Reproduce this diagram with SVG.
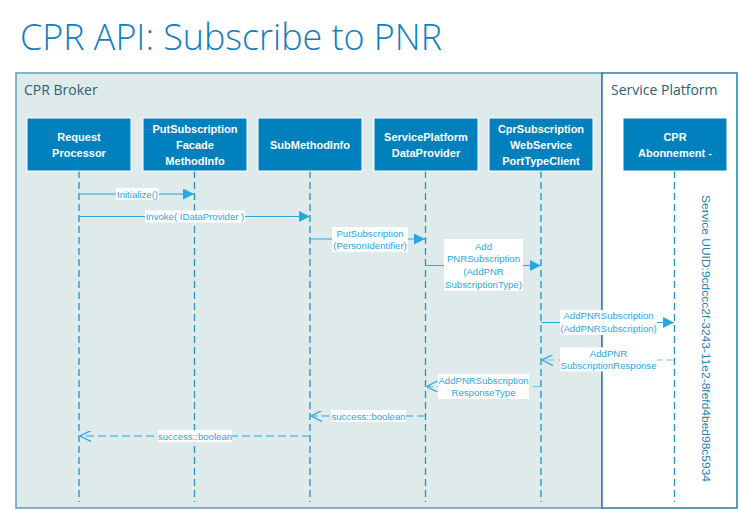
<svg xmlns="http://www.w3.org/2000/svg" width="740" height="510" viewBox="0 0 740 510">
<defs>
<style>
.title{font-family:"Open Sans","Liberation Sans",sans-serif;font-size:37px;fill:#117ec0;font-weight:300}
.frame{font-family:"Open Sans","Liberation Sans",sans-serif;font-size:14px;fill:#2d5d74}
.node rect{fill:#0080bc;stroke:#ffffff;stroke-width:1}
.node text{font-family:"Liberation Sans",Arial,sans-serif;font-size:11px;font-weight:bold;fill:#ffffff;text-anchor:middle}
.life{stroke:#1e92cb;stroke-width:1.3;stroke-dasharray:7 4;fill:none}
.msg{stroke:#29a8e0;stroke-width:1.2;fill:none}
.ret{stroke:#29a8e0;stroke-width:1.2;fill:none;stroke-dasharray:8 4}
.lbg{fill:#ffffff}
.lbl{font-family:"Liberation Sans",Arial,sans-serif;font-size:9.6px;fill:#2aa8df;text-anchor:middle}
.vert{font-family:"Liberation Sans",Arial,sans-serif;font-size:11px;fill:#1f7fb0}
</style>
<marker id="fill" viewBox="0 0 10 10" refX="10" refY="5" markerWidth="11" markerHeight="11" markerUnits="userSpaceOnUse" orient="auto">
<path d="M0,0 L10,5 L0,10 z" fill="#29a8e0"/>
</marker>
<marker id="open" viewBox="0 0 10 10" refX="10" refY="5" markerWidth="11" markerHeight="11" markerUnits="userSpaceOnUse" orient="auto">
<path d="M0,0 L10,5 L0,10" fill="none" stroke="#29a8e0" stroke-width="1.2"/>
</marker>
</defs>
<rect width="740" height="510" fill="#ffffff"/>
<text class="title" x="20" y="50" textLength="422" lengthAdjust="spacingAndGlyphs">CPR API: Subscribe to PNR</text>

<g id="cpr-broker">
<rect x="16" y="73" width="586" height="435" fill="#dfeaea" stroke="#5f9db3" stroke-width="1.5"/>
<text class="frame" x="24" y="95">CPR Broker</text>
</g>
<g id="service-platform">
<rect x="602" y="73" width="135" height="435" fill="#ffffff" stroke="#2b7ca6" stroke-width="1.5"/>
<text class="frame" x="611" y="95">Service Platform</text>
</g>

<g id="lifelines">
<line class="life" x1="79" y1="171" x2="79" y2="502"/>
<line class="life" x1="194.5" y1="171" x2="194.5" y2="502"/>
<line class="life" x1="310" y1="171" x2="310" y2="502"/>
<line class="life" x1="425.5" y1="171" x2="425.5" y2="502"/>
<line class="life" x1="541" y1="171" x2="541" y2="502"/>
<line class="life" x1="674.5" y1="171" x2="674.5" y2="502"/>
</g>

<g id="request-processor" class="node">
<rect x="27" y="118" width="104" height="53"/>
<text x="79" y="140.5">Request</text>
<text x="79" y="156.5">Processor</text>
</g>
<g id="putsubscription-facade" class="node">
<rect x="143" y="118" width="104" height="53"/>
<text x="195" y="133">PutSubscription</text>
<text x="195" y="149">Facade</text>
<text x="195" y="165">MethodInfo</text>
</g>
<g id="submethodinfo" class="node">
<rect x="258" y="118" width="104" height="53"/>
<text x="310" y="148.5">SubMethodInfo</text>
</g>
<g id="serviceplatform-dataprovider" class="node">
<rect x="374" y="118" width="104" height="53"/>
<text x="426" y="140.5">ServicePlatform</text>
<text x="426" y="156.5">DataProvider</text>
</g>
<g id="cprsubscription-client" class="node">
<rect x="489" y="118" width="104" height="53"/>
<text x="541" y="133">CprSubscription</text>
<text x="541" y="149">WebService</text>
<text x="541" y="165">PortTypeClient</text>
</g>
<g id="cpr-abonnement" class="node">
<rect x="623" y="118" width="104" height="53"/>
<text x="675" y="140.5">CPR</text>
<text x="675" y="156.5">Abonnement -</text>
</g>

<text class="vert" transform="translate(702,195) rotate(90)" textLength="287" lengthAdjust="spacingAndGlyphs">Service UUID:9cdccc2f-3243-11e2-8fefd4bed98c5934</text>

<g id="connectors">
<line class="msg" x1="79" y1="194" x2="194" y2="194" marker-end="url(#fill)"/>
<rect class="lbg" x="116" y="188" width="43" height="12"/>
<text class="lbl" x="137.5" y="197.5">Initialize()</text>

<line class="msg" x1="79" y1="216.5" x2="310" y2="216.5" marker-end="url(#fill)"/>
<rect class="lbg" x="145" y="210.5" width="100" height="12"/>
<text class="lbl" x="195" y="220">Invoke( IDataProvider )</text>

<line class="msg" x1="310" y1="239" x2="425" y2="239" marker-end="url(#fill)"/>
<rect class="lbg" x="332" y="227" width="76" height="25"/>
<text class="lbl" x="370" y="236.5">PutSubscription</text>
<text class="lbl" x="370" y="249">(PersonIdentifier)</text>

<line class="msg" x1="425.5" y1="265.5" x2="541" y2="265.5" marker-end="url(#fill)"/>
<rect class="lbg" x="444" y="239" width="79" height="52"/>
<text class="lbl" x="483.5" y="249.5">Add</text>
<text class="lbl" x="483.5" y="262">PNRSubscription</text>
<text class="lbl" x="483.5" y="275">(AddPNR</text>
<text class="lbl" x="483.5" y="287.5">SubscriptionType)</text>

<line class="msg" x1="541" y1="322.5" x2="674" y2="322.5" marker-end="url(#fill)"/>
<rect class="lbg" x="560" y="310" width="97" height="25"/>
<text class="lbl" x="608.5" y="319">AddPNRSubscription</text>
<text class="lbl" x="608.5" y="332">(AddPNRSubscription)</text>

<line class="ret" x1="674.5" y1="360" x2="542" y2="360" marker-end="url(#open)" style="stroke:#6cc3ea"/>
<rect class="lbg" x="560" y="347.5" width="97" height="24"/>
<text class="lbl" x="608.5" y="356.5">AddPNR</text>
<text class="lbl" x="608.5" y="369">SubscriptionResponse</text>

<line class="ret" x1="541" y1="386.5" x2="426.5" y2="386.5" marker-end="url(#open)" style="stroke:#6cc3ea"/>
<rect class="lbg" x="438" y="374" width="91" height="25"/>
<text class="lbl" x="483.5" y="383.5">AddPNRSubscription</text>
<text class="lbl" x="483.5" y="396">ResponseType</text>

<line class="ret" x1="425.5" y1="416" x2="311" y2="416" marker-end="url(#open)"/>
<rect class="lbg" x="331" y="410" width="75" height="12"/>
<text class="lbl" x="368.5" y="419.5">success::boolean</text>

<line class="ret" x1="310" y1="436" x2="80" y2="436" marker-end="url(#open)"/>
<rect class="lbg" x="158" y="430" width="74" height="12"/>
<text class="lbl" x="195" y="439.5">success::boolean</text>
</g>
</svg>
